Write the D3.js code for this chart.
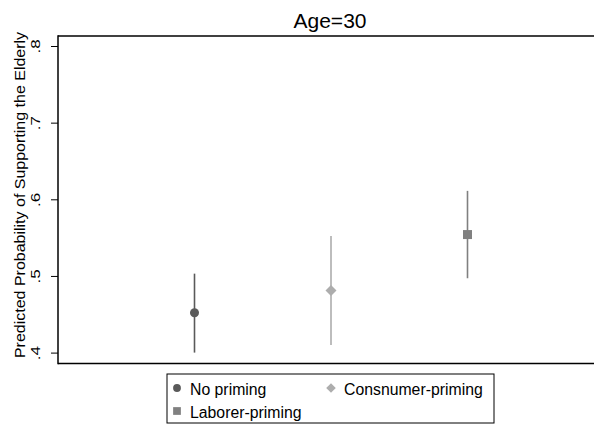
<!DOCTYPE html>
<html>
<head>
<meta charset="utf-8">
<script src="https://cdn.jsdelivr.net/npm/d3@7"></script>
<style>
  html, body { margin: 0; padding: 0; background: #fff; }
  svg { display: block; font-family: Arial, "Liberation Sans", sans-serif; }
</style>
</head>
<body>
<svg id="chart" width="594" height="425"></svg>
<script>
const title = "Age=30";
const yLabel = "Predicted Probability of Supporting the Elderly";
const categories = ["No priming", "Consnumer-priming", "Laborer-priming"];
const estimates = [0.452, 0.481, 0.554];
const lower = [0.400, 0.410, 0.497];
const upper = [0.503, 0.552, 0.611];
const yTicks = [0.4, 0.5, 0.6, 0.7, 0.8];
const yTickLabels = [".4", ".5", ".6", ".7", ".8"];
const colors = ["#5a5a5a", "#adadad", "#808080"];
const shapes = [d3.symbolCircle, d3.symbolSquare, d3.symbolSquare];
const rotations = [0, 45, 0];

const svg = d3.select("#chart");
const plotLeft = 58, plotTop = 36, plotBottom = 363.5, plotRight = 594;

const x = d3.scalePoint().domain(categories).range([plotLeft, 604]).padding(1);
const y = d3.scaleLinear().domain([0.4, 0.8]).range([352.6, 46]);

// frame lines
svg.append("line").attr("x1", plotLeft).attr("x2", plotRight).attr("y1", plotTop).attr("y2", plotTop)
  .attr("stroke", "#000").attr("stroke-width", 1.5);
svg.append("line").attr("x1", plotLeft).attr("x2", plotRight).attr("y1", plotBottom).attr("y2", plotBottom)
  .attr("stroke", "#000").attr("stroke-width", 1.5);

// y axis
const yAxis = d3.axisLeft(y).tickValues(yTicks).tickSize(7)
  .tickFormat((d, i) => yTickLabels[i]);
const gy = svg.append("g").attr("transform", `translate(${plotLeft},0)`).call(yAxis);
gy.select(".domain").remove();
gy.append("line").attr("x1", 0).attr("x2", 0).attr("y1", plotTop - 0.75).attr("y2", plotBottom + 0.75)
  .attr("stroke", "#000").attr("stroke-width", 1.5);
gy.selectAll(".tick line").attr("stroke", "#000").attr("stroke-width", 1);
gy.selectAll(".tick text")
  .attr("font-size", 17).attr("fill", "#000")
  .attr("font-family", "Arial, 'Liberation Sans', sans-serif")
  .attr("x", 0).attr("y", 0).attr("dy", null)
  .attr("text-anchor", "middle")
  .attr("transform", "translate(-18.5,0) rotate(-90) scale(1,0.78)");

// y label
svg.append("text")
  .attr("transform", `translate(25,${(32 + 358) / 2}) rotate(-90) scale(1,0.88)`)
  .attr("text-anchor", "middle")
  .attr("font-size", 16)
  .attr("fill", "#000")
  .text(yLabel);

// title
svg.append("text")
  .attr("x", 330).attr("y", 28)
  .attr("text-anchor", "middle")
  .attr("font-size", 21)
  .attr("fill", "#000")
  .text(title);

// error bars
svg.selectAll("line.ci").data(categories).enter().append("line")
  .attr("class", "ci")
  .attr("x1", d => x(d)).attr("x2", d => x(d))
  .attr("y1", (d, i) => y(lower[i])).attr("y2", (d, i) => y(upper[i]))
  .attr("stroke", (d, i) => colors[i]).attr("stroke-width", 1.6);

// points
const sizes = [64, 60, 81];
svg.selectAll("path.pt").data(categories).enter().append("path")
  .attr("class", "pt")
  .attr("transform", (d, i) => `translate(${x(d)},${y(estimates[i])}) rotate(${rotations[i]})`)
  .attr("d", (d, i) => d3.symbol().type(shapes[i]).size(sizes[i])())
  .attr("fill", (d, i) => colors[i]);

// legend
const lg = svg.append("g");
lg.append("rect").attr("x", 167).attr("y", 374).attr("width", 327).attr("height", 49)
  .attr("fill", "#fff").attr("stroke", "#000").attr("stroke-width", 1);
const legendPos = [[177, 388], [331, 388], [177, 411]];
const legendSizes = [48, 46, 60];
categories.forEach((c, i) => {
  const [lx, ly] = legendPos[i];
  lg.append("path")
    .attr("transform", `translate(${lx},${ly}) rotate(${rotations[i]})`)
    .attr("d", d3.symbol().type(shapes[i]).size(legendSizes[i])())
    .attr("fill", colors[i]);
  lg.append("text")
    .attr("x", lx + 13).attr("y", ly + 6.5)
    .attr("font-size", 15.8)
    .attr("fill", "#000")
    .text(c);
});
</script>
</body>
</html>
